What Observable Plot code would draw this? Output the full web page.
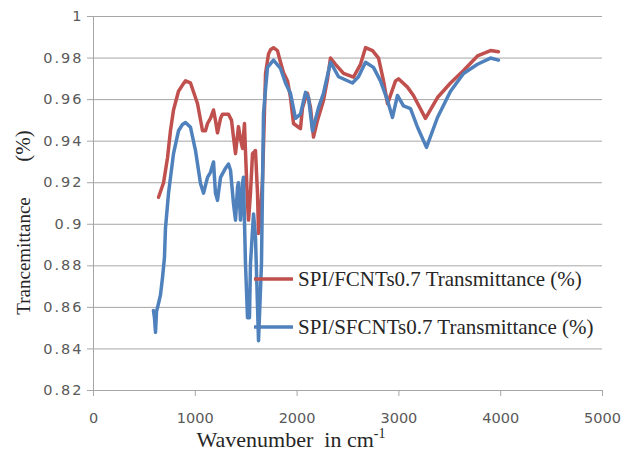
<!DOCTYPE html>
<html><head><meta charset="utf-8">
<script src="https://cdn.jsdelivr.net/npm/d3@7"></script>
<script src="https://cdn.jsdelivr.net/npm/@observablehq/plot@0.6"></script>
<style>
body{margin:0;background:#fff}
svg{display:block}
</style>
</head><body><div id="chart"></div>
<script>
const seriesNames = ["SPI/FCNTs0.7 Transmittance (%)", "SPI/SFCNTs0.7 Transmittance (%)"];
const seriesColors = ["#C0504D", "#4F81BD"];
const xTicks = [0, 1000, 2000, 3000, 4000, 5000];
const yTicks = [0.82, 0.84, 0.86, 0.88, 0.9, 0.92, 0.94, 0.96, 0.98, 1];
const xTitle = "Wavenumber  in cm";
const xTitleSup = "-1";
const yTitleMain = "Trancemittance";
const yTitleUnit = "(%)";

const redWn = [639,688,727,756,786,835,874,904,953,1022,1071,1100,1120,1149,1179,1198,1218,1248,1267,1326,1356,1375,1395,1424,1444,1464,1483,1493,1513,1523,1542,1562,1591,1611,1621,1640,1660,1680,1690,1719,1739,1768,1807,1837,1866,1906,1935,1965,2014,2033,2053,2083,2102,2132,2161,2181,2200,2259,2299,2328,2377,2456,2554,2623,2672,2741,2800,2849,2888,2917,2967,2996,3084,3143,3261,3379,3507,3635,3772,3900,3978];
const redT = [0.913,0.920,0.932,0.945,0.955,0.964,0.967,0.969,0.968,0.958,0.945,0.945,0.9485,0.951,0.955,0.950,0.944,0.951,0.953,0.953,0.950,0.942,0.934,0.947,0.941,0.9365,0.9485,0.935,0.910,0.902,0.915,0.934,0.9355,0.915,0.8956,0.905,0.921,0.955,0.9726,0.982,0.984,0.985,0.9836,0.978,0.973,0.969,0.961,0.9485,0.9467,0.946,0.956,0.961,0.963,0.956,0.942,0.946,0.950,0.9596,0.970,0.980,0.977,0.9726,0.9708,0.977,0.985,0.9836,0.980,0.969,0.958,0.962,0.969,0.970,0.966,0.962,0.951,0.961,0.968,0.974,0.981,0.9836,0.983];

const blueWn = [589,599,609,619,639,658,678,697,707,737,786,835,874,904,953,1002,1051,1081,1120,1149,1179,1198,1218,1248,1297,1326,1346,1375,1395,1415,1424,1444,1464,1473,1493,1513,1532,1542,1572,1591,1621,1650,1670,1690,1709,1768,1837,1886,1935,1984,2033,2083,2112,2151,2210,2259,2328,2407,2544,2603,2672,2750,2819,2888,2937,2986,3045,3114,3183,3271,3379,3507,3635,3772,3900,3978];
const blueT = [0.8585,0.855,0.848,0.858,0.862,0.866,0.8744,0.884,0.898,0.915,0.934,0.945,0.948,0.949,0.9467,0.9355,0.9196,0.915,0.9226,0.925,0.930,0.915,0.9115,0.9226,0.927,0.929,0.926,0.910,0.902,0.918,0.920,0.902,0.9196,0.9226,0.881,0.855,0.855,0.881,0.905,0.894,0.844,0.881,0.953,0.965,0.9755,0.979,0.975,0.968,0.963,0.951,0.953,0.9635,0.961,0.945,0.956,0.963,0.978,0.971,0.968,0.971,0.978,0.9755,0.969,0.9596,0.9514,0.962,0.957,0.9557,0.9467,0.937,0.9514,0.964,0.9726,0.977,0.980,0.979];

const red = redWn.map((w, i) => ({wn: w, t: redT[i]}));
const blue = blueWn.map((w, i) => ({wn: w, t: blueT[i]}));

const gridColor = "#a6a6a6";
const textColor = "#595959";

const chart = Plot.plot({
  width: 623,
  height: 459,
  marginLeft: 93,
  marginRight: 21,
  marginTop: 16,
  marginBottom: 69,
  style: {background: "#fff", fontFamily: "'DejaVu Sans', sans-serif", fontSize: "14.5px", color: textColor},
  x: {domain: [0, 5000], label: null},
  y: {domain: [0.82, 1], label: null},
  marks: [
    Plot.ruleY(yTicks, {stroke: gridColor, strokeWidth: 1}),
    Plot.ruleX([0], {stroke: gridColor, strokeWidth: 1}),
    Plot.axisY(yTicks, {tickSize: 6, tickPadding: 4, stroke: gridColor, fill: textColor, label: null,
      tickFormat: d => String(+d.toFixed(2)), className: "yax"}),
    Plot.axisX(xTicks, {tickSize: 6, tickPadding: 16, stroke: gridColor, fill: textColor, label: null,
      tickFormat: d => String(d)}),
    Plot.line(red, {x: "wn", y: "t", stroke: seriesColors[0], strokeWidth: 3.5}),
    Plot.line(blue, {x: "wn", y: "t", stroke: seriesColors[1], strokeWidth: 3.5})
  ]
});

const svg = d3.select(chart);
svg.selectAll(".yax text").style("letter-spacing", "2px");
const serif = "'Liberation Serif', 'Times New Roman', serif";
const titleColor = "#262626";

// Y title
svg.append("text")
  .attr("transform", "translate(30,256) rotate(-90)")
  .attr("text-anchor", "middle")
  .attr("font-family", serif).attr("font-size", 19).attr("fill", titleColor)
  .text(yTitleMain);
svg.append("text")
  .attr("transform", "translate(30,146) rotate(-90)")
  .attr("text-anchor", "middle")
  .attr("font-family", serif).attr("font-size", 21).attr("fill", titleColor)
  .text(yTitleUnit);

// X title
const xt = svg.append("text")
  .attr("x", 291).attr("y", 447)
  .attr("text-anchor", "middle")
  .attr("font-family", serif).attr("font-size", 22).attr("fill", titleColor)
  .style("white-space", "pre");
xt.append("tspan").text(xTitle);
xt.append("tspan").attr("font-size", 14).attr("dy", -9).text(xTitleSup);

// Legend (inside plot, transparent)
const legY = [279, 327];
seriesNames.forEach((name, i) => {
  svg.append("line")
    .attr("x1", 254).attr("x2", 293).attr("y1", legY[i]).attr("y2", legY[i])
    .attr("stroke", seriesColors[i]).attr("stroke-width", 3.5);
  svg.append("text")
    .attr("x", 298).attr("y", legY[i] + 7)
    .attr("text-anchor", "start")
    .attr("font-family", serif).attr("font-size", 21).attr("fill", titleColor)
    .text(name);
});

document.getElementById("chart").appendChild(chart);
</script>
</body></html>
